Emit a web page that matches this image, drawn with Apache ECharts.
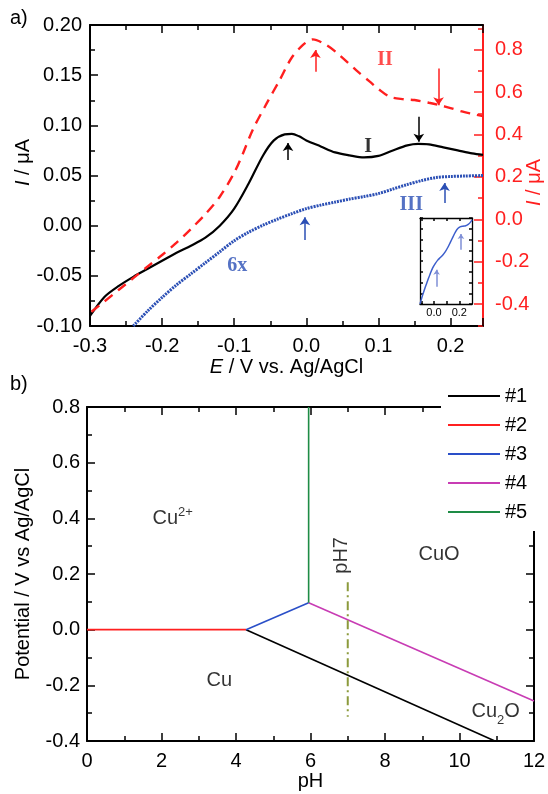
<!DOCTYPE html>
<html>
<head>
<meta charset="utf-8">
<script src="https://cdn.jsdelivr.net/npm/echarts@6/dist/echarts.min.js"></script>
<style>
  html, body { margin: 0; padding: 0; background: #fff; }
  #chart { width: 548px; height: 794px; }
</style>
</head>
<body>
<div id="chart"></div>
<script>
// ---- panel a) voltammograms ----
// curve I (black, left axis, µA)
var potentialI = [-0.300, -0.280, -0.260, -0.240, -0.220, -0.200, -0.180, -0.160, -0.140, -0.120, -0.100, -0.080, -0.060, -0.045, -0.030, -0.020, -0.010, 0.000, 0.020, 0.040, 0.060, 0.080, 0.100, 0.120, 0.140, 0.155, 0.170, 0.190, 0.210, 0.230, 0.245]
var currentI = [-0.090, -0.071, -0.060, -0.051, -0.043, -0.035, -0.027, -0.020, -0.012, 0.000, 0.017, 0.042, 0.070, 0.085, 0.091, 0.0915, 0.089, 0.085, 0.079, 0.073, 0.070, 0.068, 0.0695, 0.075, 0.080, 0.0815, 0.081, 0.078, 0.075, 0.072, 0.0705]
// curve II (red dashed, right axis, µA)
var potentialII = [-0.298, -0.280, -0.260, -0.240, -0.220, -0.200, -0.180, -0.160, -0.140, -0.120, -0.100, -0.088, -0.074, -0.055, -0.037, -0.021, -0.005, 0.009, 0.028, 0.046, 0.069, 0.088, 0.100, 0.116, 0.135, 0.150, 0.170, 0.185, 0.200, 0.217, 0.230, 0.245]
var currentII = [-0.436, -0.387, -0.332, -0.277, -0.222, -0.168, -0.110, -0.045, 0.025, 0.107, 0.220, 0.310, 0.425, 0.547, 0.657, 0.759, 0.822, 0.849, 0.822, 0.775, 0.704, 0.650, 0.615, 0.578, 0.567, 0.563, 0.550, 0.539, 0.525, 0.508, 0.498, 0.487]
// curve III (blue dotted, 6x, left axis)
var potentialIII = [-0.240, -0.220, -0.200, -0.180, -0.160, -0.140, -0.120, -0.100, -0.080, -0.060, -0.040, -0.020, 0.000, 0.020, 0.040, 0.060, 0.080, 0.100, 0.120, 0.140, 0.160, 0.180, 0.200, 0.220, 0.245]
var currentIII = [-0.100, -0.085, -0.0715, -0.059, -0.048, -0.037, -0.026, -0.015, -0.0065, 0.0005, 0.0065, 0.012, 0.017, 0.0205, 0.0235, 0.0265, 0.029, 0.032, 0.0365, 0.041, 0.045, 0.048, 0.049, 0.0495, 0.050]
// inset (curve III, arbitrary scale)
var insetPotential = [-0.110, -0.090, -0.070, -0.050, -0.030, -0.010, 0.010, 0.030, 0.050, 0.070, 0.090, 0.110, 0.130, 0.150, 0.170, 0.190, 0.210, 0.230, 0.250, 0.270, 0.290, 0.300]
var insetCurrent = [0.00, 0.10, 0.19, 0.27, 0.35, 0.42, 0.47, 0.51, 0.54, 0.57, 0.61, 0.66, 0.72, 0.78, 0.84, 0.88, 0.90, 0.905, 0.91, 0.925, 0.955, 0.98]
// arrows: [E, from, to]
var arrowsI = [[-0.0254, 0.0655, 0.0825], [0.156, 0.1086, 0.0837]]
var arrowsII = [[0.0126, 0.696, 0.799], [0.1834, 0.712, 0.539]]
var arrowsIII = [[-0.002, -0.0144, 0.0085], [0.1917, 0.0225, 0.0425]]
var arrowsInset = [[0.021, 0.20, 0.397], [0.213, 0.63, 0.813]]
// curve labels (left axis units)
var curveLabelText = ['I', 'II', 'III', '6x']
var curveLabelE = [0.0857, 0.109, 0.1455, -0.0957]
var curveLabelI = [0.0787, 0.165, 0.0205, -0.0403]
// tick values
var rightTicksA = [-0.4, -0.2, 0.0, 0.2, 0.4, 0.6, 0.8]
var rightMinorA = [-0.5, -0.3, -0.1, 0.1, 0.3, 0.5, 0.7, 0.9]

// ---- panel b) Pourbaix diagram ----
var boundaryNames = ['#1', '#2', '#3', '#4', '#5']
var boundaryPH = [[4.27, 10.95], [0, 4.27], [4.27, 5.95], [5.95, 12], [5.95, 5.95]]
var boundaryE = [[0.0, -0.4], [0.0, 0.0], [0.0, 0.097], [0.097, -0.256], [0.097, 0.8]]
var ph7PH = [7, 7]
var ph7E = [0.17, -0.313]
var regionText = ['Cu{sup|2+}', 'CuO', 'Cu', 'Cu{sub|2}O', 'pH7']
var regionPH = [2.30, 9.45, 3.55, 10.97, 6.84]
var regionE = [0.40, 0.269, -0.182, -0.295, 0.267]

var SANS = '"Liberation Sans", Arial, Helvetica, sans-serif'
var SERIF = '"Liberation Serif", "Times New Roman", serif'
var RED = '#ff1f1f'
var BLUE = '#2b4fb5'
var boundaryColors = ['#000000', '#ff2020', '#2a4fc8', '#c83cb4', '#1e8c46']
var curveLabelColors = ['#000000', RED, BLUE, BLUE]

function pairs (xs, ys) {
  return xs.map(function (x, i) { return [x, ys[i]] })
}
function arrowData (list) {
  return list.map(function (a) {
    return [{ coord: [a[0], a[1]] }, { coord: [a[0], a[2]] }]
  })
}
function arrowMark (list, color) {
  return {
    silent: true,
    symbol: ['none', 'arrow'],
    symbolSize: 8,
    label: { show: false },
    lineStyle: { color: color, width: 1.5, type: 'solid' },
    emphasis: { disabled: true },
    data: arrowData(list)
  }
}
// shared axis style helper
function frameAxis (o) {
  var color = o.color || '#000'
  var ax = {
    type: 'value',
    gridIndex: o.grid,
    position: o.position,
    min: o.min,
    max: o.max,
    nameMoveOverlap: false,
    splitLine: { show: false },
    axisLine: { show: o.line !== false, onZero: false, lineStyle: { color: color, width: o.lw || 2 } },
    axisTick: { show: true, inside: true, length: o.tick || 8, lineStyle: { color: color, width: 1.5 } },
    minorTick: { show: !!o.minor, splitNumber: 2, length: o.minorLen || 5, lineStyle: { color: color, width: 1.5 } },
    axisLabel: { show: !!o.labels, fontSize: o.fontSize || 20, fontFamily: SANS, color: color, margin: o.margin || 8 }
  }
  if (o.interval) ax.interval = o.interval
  if (o.labelFmt) ax.axisLabel.formatter = o.labelFmt
  if (o.labelValues) ax.axisLabel.customValues = o.labelValues
  if (o.tickValues) ax.axisTick.customValues = o.tickValues
  if (o.hideMax) ax.axisLabel.showMaxLabel = false
  return ax
}

var chart = echarts.init(document.getElementById('chart'))

var option = {
  animation: false,
  backgroundColor: '#fff',
  textStyle: { fontFamily: SANS },
  grid: [
    { left: 90, top: 25, width: 393, height: 301, outerBoundsMode: 'none' },
    { left: 87, top: 407, width: 447, height: 334, outerBoundsMode: 'none' },
    { left: 420, top: 218, width: 52, height: 86, outerBoundsMode: 'none' }
  ],
  legend: {
    data: boundaryNames,
    orient: 'vertical',
    left: 441,
    top: 381,
    padding: [5, 20, 9, 7],
    backgroundColor: '#fff',
    icon: 'rect',
    itemWidth: 52,
    itemHeight: 2,
    itemGap: 9,
    selectedMode: false,
    textStyle: { fontSize: 20, fontFamily: SANS, color: '#000' }
  },
  graphic: [
    { type: 'text', left: 10, top: 8, style: { text: 'a)', font: '20px ' + SANS, fill: '#000' } },
    { type: 'text', left: 10, top: 374, style: { text: 'b)', font: '20px ' + SANS, fill: '#000' } }
  ],
  xAxis: [
    Object.assign(frameAxis({ grid: 0, position: 'bottom', min: -0.3, max: 0.245, interval: 0.1, minor: true, labels: true, hideMax: true, margin: 10,
      labelFmt: function (v) { return v.toFixed(1) } }), {
      name: '{i|E} / V vs. Ag/AgCl', nameLocation: 'middle', nameGap: 31,
      nameTextStyle: { fontSize: 20, fontFamily: SANS, color: '#000', rich: { i: { fontSize: 20, fontStyle: 'italic', fontFamily: SANS } } }
    }),
    frameAxis({ grid: 0, position: 'top', min: -0.3, max: 0.245, interval: 0.1, minor: true }),
    Object.assign(frameAxis({ grid: 1, position: 'bottom', min: 0, max: 12, interval: 2, minor: true, labels: true, margin: 10 }), {
      name: 'pH', nameLocation: 'middle', nameGap: 30,
      nameTextStyle: { fontSize: 20, fontFamily: SANS, color: '#000' }
    }),
    frameAxis({ grid: 1, position: 'top', min: 0, max: 12, interval: 2, minor: true }),
    frameAxis({ grid: 2, position: 'bottom', min: -0.11, max: 0.3, labels: true, fontSize: 11, margin: 3, lw: 1.3, tick: 3,
      labelValues: [0, 0.2], tickValues: [-0.1, 0, 0.1, 0.2], labelFmt: function (v) { return v.toFixed(1) } }),
    frameAxis({ grid: 2, position: 'top', min: -0.11, max: 0.3, lw: 1.3, tick: 3, tickValues: [-0.1, 0, 0.1, 0.2] })
  ],
  yAxis: [
    Object.assign(frameAxis({ grid: 0, position: 'left', min: -0.1, max: 0.2, interval: 0.05, minor: true, labels: true,
      labelFmt: function (v) { return v.toFixed(2) } }), {
      name: '{i|I} / μA', nameLocation: 'middle', nameGap: 57,
      nameTextStyle: { fontSize: 20, fontFamily: SANS, color: '#000', padding: [0, 0, 0, 26], rich: { i: { fontSize: 20, fontStyle: 'italic', fontFamily: SANS } } }
    }),
    Object.assign(frameAxis({ grid: 0, position: 'right', min: -0.503, max: 0.917, labels: true, color: RED, margin: 12,
      labelValues: rightTicksA, tickValues: rightTicksA, tick: 9, labelFmt: function (v) { return v.toFixed(1) } }), {
      name: '{i|I} / μA', nameLocation: 'middle', nameGap: 41, nameRotate: 90,
      nameTextStyle: { fontSize: 20, fontFamily: SANS, color: RED, padding: [0, 14, 0, 0], rich: { i: { fontSize: 20, fontStyle: 'italic', fontFamily: SANS, color: RED } } }
    }),
    frameAxis({ grid: 0, position: 'right', min: -0.503, max: 0.917, line: false, color: RED, tick: 5, tickValues: rightMinorA }),
    Object.assign(frameAxis({ grid: 1, position: 'left', min: -0.4, max: 0.8, interval: 0.2, minor: true, labels: true, margin: 7,
      labelFmt: function (v) { return v.toFixed(1) } }), {
      name: 'Potential / V vs Ag/AgCl', nameLocation: 'middle', nameGap: 54,
      nameTextStyle: { fontSize: 20, fontFamily: SANS, color: '#000' }
    }),
    frameAxis({ grid: 1, position: 'right', min: -0.4, max: 0.8, interval: 0.2, minor: true }),
    frameAxis({ grid: 2, position: 'left', min: 0, max: 1, interval: 0.125, lw: 1.3, tick: 3 }),
    frameAxis({ grid: 2, position: 'right', min: 0, max: 1, interval: 0.125, lw: 1.3, tick: 3 })
  ],
  series: [
    {
      name: 'I', type: 'line', xAxisIndex: 0, yAxisIndex: 0, smooth: 0.3, showSymbol: false, symbol: 'none',
      lineStyle: { color: '#000', width: 2.2 }, itemStyle: { color: '#000' },
      data: pairs(potentialI, currentI),
      markLine: arrowMark(arrowsI, '#000')
    },
    {
      name: 'II', type: 'line', xAxisIndex: 0, yAxisIndex: 1, smooth: 0.3, showSymbol: false, symbol: 'none',
      lineStyle: { color: RED, width: 2.4, type: [10, 7] }, itemStyle: { color: RED },
      data: pairs(potentialII, currentII),
      markLine: arrowMark(arrowsII, RED)
    },
    {
      name: 'III', type: 'line', xAxisIndex: 0, yAxisIndex: 0, smooth: 0.3, showSymbol: false, symbol: 'none',
      lineStyle: { color: BLUE, width: 3, type: [2, 1] }, itemStyle: { color: BLUE },
      data: pairs(potentialIII, currentIII),
      markLine: arrowMark(arrowsIII, BLUE)
    },
    {
      name: 'inset', type: 'line', xAxisIndex: 4, yAxisIndex: 5, smooth: 0.3, showSymbol: false, symbol: 'none',
      lineStyle: { color: '#3d5fcc', width: 1.5 }, itemStyle: { color: '#3d5fcc' },
      data: pairs(insetPotential, insetCurrent),
      markLine: Object.assign(arrowMark(arrowsInset, '#7f8fd6'), { symbolSize: 5 })
    },
    {
      name: 'curveLabels', type: 'scatter', xAxisIndex: 0, yAxisIndex: 0, symbolSize: 1,
      itemStyle: { color: 'rgba(0,0,0,0)' }, silent: true,
      label: { show: true, position: 'inside', fontSize: 20, fontFamily: SERIF, fontWeight: 'bold' },
      data: curveLabelText.map(function (t, i) {
        return { value: [curveLabelE[i], curveLabelI[i]], label: { formatter: t, color: curveLabelColors[i] } }
      })
    }
  ].concat(boundaryNames.map(function (n, i) {
    return {
      name: n, type: 'line', xAxisIndex: 2, yAxisIndex: 3, showSymbol: false, symbol: 'none',
      lineStyle: { color: boundaryColors[i], width: 1.6 }, itemStyle: { color: boundaryColors[i] },
      data: pairs(boundaryPH[i], boundaryE[i])
    }
  })).concat([
    {
      name: 'pH7', type: 'line', xAxisIndex: 2, yAxisIndex: 3, showSymbol: false, symbol: 'none',
      lineStyle: { color: '#8c9a3c', width: 2, type: [9, 4, 2, 4] }, itemStyle: { color: '#8c9a3c' },
      data: pairs(ph7PH, ph7E)
    },
    {
      name: 'regionLabels', type: 'scatter', xAxisIndex: 2, yAxisIndex: 3, symbolSize: 1,
      itemStyle: { color: 'rgba(0,0,0,0)' }, silent: true,
      label: {
        show: true, position: 'inside', fontSize: 20, fontFamily: SANS, color: '#000',
        rich: {
          sup: { fontSize: 13, lineHeight: 12, padding: [0, 0, 11, 0], fontFamily: SANS, color: '#000' },
          sub: { fontSize: 13, lineHeight: 12, padding: [18, 0, 0, 0], fontFamily: SANS, color: '#000' }
        }
      },
      data: regionText.map(function (t, i) {
        var item = { value: [regionPH[i], regionE[i]], label: { formatter: t } }
        if (t === 'pH7') item.label.rotate = 90
        return item
      })
    }
  ])
}

chart.setOption(option)
</script>
</body>
</html>
